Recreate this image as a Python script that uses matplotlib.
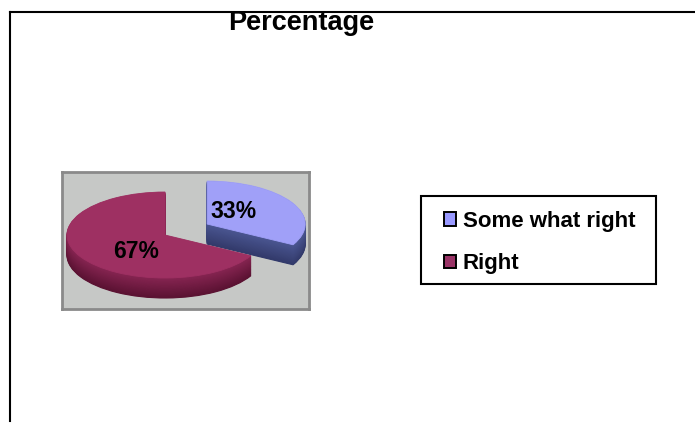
import matplotlib
matplotlib.use('Agg')
import matplotlib.pyplot as plt
from matplotlib.patches import Rectangle, Patch
from matplotlib.lines import Line2D
from matplotlib.colors import to_rgb
import numpy as np

# ---- data ----
categories = ["Some what right", "Right"]
values = [33, 67]
explode = [0.5, 0.0]
title = "Percentage"

# ---- style ----
top_colors = ["#a0a0f8", "#9e3062"]
side_top_colors = ["#4a5590", "#842450"]
side_bot_colors = ["#323a6a", "#5a1232"]

W, H = 695, 441
plt.rcParams['font.family'] = ['Liberation Sans', 'DejaVu Sans']
fig = plt.figure(figsize=(W / 100, H / 100), dpi=100)


def fx(px):
    return px / W


def fy(py):
    return 1 - py / H


# plot area (grey box)
bx0, bx1, by0, by1 = 62, 309, 172, 309
ax = fig.add_axes([fx(bx0), fy(by1), (bx1 - bx0) / W, (by1 - by0) / H])

rx_px, ry_px = 98.0, 43.0
cx, cy = (165 - bx0) / rx_px, (by1 - 235) / ry_px
thick = 20 / ry_px

N = 26
for k in range(N, 0, -1):
    t = (k - 1) / (N - 1)
    cols = []
    for a, b in zip(side_top_colors, side_bot_colors):
        ca, cb = np.array(to_rgb(a)), np.array(to_rgb(b))
        cols.append(tuple(ca * (1 - t) + cb * t))
    wedges, _ = ax.pie(values, explode=explode, startangle=90, counterclock=False,
                       center=(cx, cy - thick * k / N), radius=1, colors=cols,
                       frame=True)
    for i, w in enumerate(wedges):
        w.set_edgecolor(cols[i])
        w.set_linewidth(0.8)
        w.set_zorder(2 if i == 0 else 4)

wedges, _ = ax.pie(values, explode=explode, startangle=90, counterclock=False,
                   center=(cx, cy), radius=1, colors=top_colors, frame=True)
for i, w in enumerate(wedges):
    w.set_edgecolor(top_colors[i])
    w.set_linewidth(0.6)
    w.set_zorder(3 if i == 0 else 5)

ax.set_aspect('auto')
ax.set_xlim(0, (bx1 - bx0) / rx_px)
ax.set_ylim(0, (by1 - by0) / ry_px)
ax.set_frame_on(True)
ax.set_facecolor('#c6c8c6')
for s in ax.spines.values():
    s.set_color('#8a8a8a')
    s.set_linewidth(2)
ax.set_xticks([])
ax.set_yticks([])

# percentage labels
label_pos = [((233 - bx0) / rx_px, (by1 - 212) / ry_px),
             ((136 - bx0) / rx_px, (by1 - 252) / ry_px)]
total = sum(values)
for v, (lx, ly) in zip(values, label_pos):
    ax.text(lx, ly, f"{v / total * 100:.0f}%", ha='center', va='center',
            fontsize=16.5, fontweight='bold', color='black', zorder=10)

# title
fig.text(fx(301), fy(23), title, ha='center', va='center',
         fontsize=19.5, fontweight='bold', color='black')

# outer frame lines
fig.add_artist(Line2D([fx(10), 1.0], [fy(12), fy(12)], color='black', lw=1.5))
fig.add_artist(Line2D([fx(10), fx(10)], [fy(12), fy(421)], color='black', lw=1.5))

# legend box
fig.add_artist(Rectangle((fx(421), fy(284)), (656 - 421) / W, (284 - 196) / H,
                         transform=fig.transFigure, fill=False,
                         edgecolor='black', lw=1.5))
handles = [Patch(facecolor=c, edgecolor='black', lw=1.4) for c in ["#9999ff", "#993366"]]
fig.legend(handles, categories, loc='upper left',
           bbox_to_anchor=(fx(444), fy(211)), frameon=False,
           prop=dict(weight='bold', size=16),
           handlelength=0.55, handleheight=0.55, handletextpad=0.3,
           labelspacing=0.95, borderpad=0, borderaxespad=0)

fig.savefig('out.png', dpi=100)
